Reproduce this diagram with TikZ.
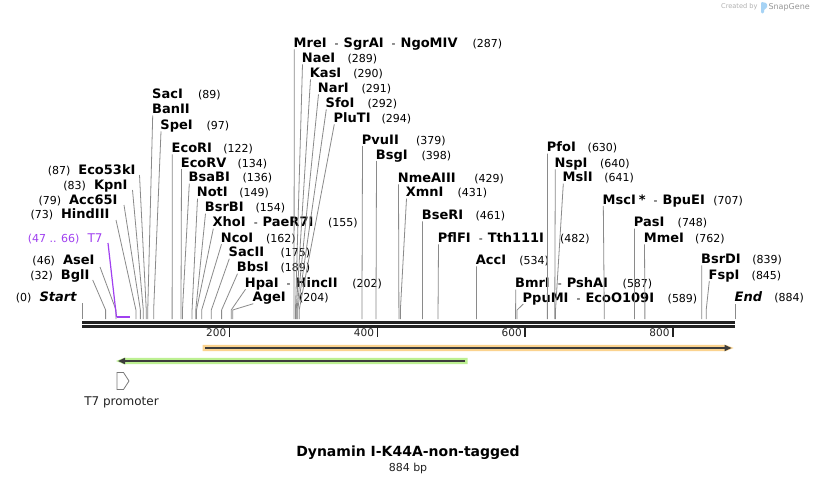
\documentclass[tikz,border=0pt]{standalone}
\usepackage{fontspec}
\setmainfont{DejaVu Sans}
\usetikzlibrary{arrows.meta}
\definecolor{cutc}{HTML}{8A8A8A}
\definecolor{bbc}{HTML}{222222}
\definecolor{purp}{HTML}{A040F0}
\definecolor{orgband}{HTML}{FBD38F}
\definecolor{grnband}{HTML}{BDF092}
\definecolor{arrdark}{HTML}{3C3C3C}
\definecolor{promoc}{HTML}{7A7A7A}
\definecolor{wmgray}{HTML}{B0B0B0}
\definecolor{wmblue}{HTML}{A6D3F5}
\newcommand\nmf{\fontsize{13}{15}\selectfont\bfseries}
\newcommand\nuf{\fontsize{11}{13}\selectfont\mdseries}
\newcommand\sepd{{\nuf\hspace{8pt}-\hspace{5pt}}}
% right-hand label: id, bp, label left x, y centre, name, number, number x
\newcommand\rlab[7]{%
  \node[lab,anchor=base west] (#1) at (#3-0.6,#4+5) {\nmf #5};
  \node[lab,anchor=base west] (#1n) at (#7,#4+5) {\nuf (#6)};
  \coordinate (#1s) at ({82+#2*0.73869},310);
  \draw[cut] (#3,#4+7) -- (#1s) -- ++(0,9);
}
% left-hand label: id, bp, name right x, y centre, name, number, line start x, y
\newcommand\llab[8]{%
  \node[lab,anchor=base east] (#1) at (#3+0.5,#4+5) {{\nuf (#6)}\hspace{8pt}{\nmf #5}};
  \coordinate (#1s) at ({82+#2*0.73869},310);
  \draw[cut] (#7,#8) -- (#1s) -- ++(0,9);
}
\tikzset{
  lab/.style={inner sep=0pt, outer sep=0pt, text=black},
  cut/.style={draw=cutc, line width=0.8pt},
  bbline/.style={draw=bbc, line width=3pt},
  tickm/.style={draw=bbc, line width=1.5pt},
  promo/.style={draw=promoc, line width=0.8pt, fill=white},
}
\begin{document}
\begin{tikzpicture}[x=1pt,y=-1pt]
\useasboundingbox (0,0) rectangle (818,484);
\fill[white] (0,0) rectangle (818,484);

% watermark
\node[lab,anchor=east,text=wmgray] (wm1) at (757.5,7) {\fontsize{6.6}{8}\selectfont Created by};
\fill[wmblue, rounded corners=1.2pt] (761,1.8) -- (767,3.2) -- (767,8.2) -- (764,9.2) -- (764,13.3) -- (761,13.3) -- cycle;
\node[lab,anchor=west,text=wmgray!85!black] (wm2) at (768.5,7.3) {\fontsize{8}{10}\selectfont SnapGene};

% backbone
\coordinate (bbA) at (82,322.2); \coordinate (bbB) at (735,322.2);
\coordinate (bbC) at (82,326.4); \coordinate (bbD) at (735,326.4);
\draw[bbline] (bbA) -- (bbB);
\draw[bbline] (bbC) -- (bbD);

% ticks
\foreach \v/\nm in {200/tk2,400/tk4,600/tk6,800/tk8}{
  \coordinate (\nm a) at ({82+\v*0.73869},327.5);
  \coordinate (\nm b) at ({82+\v*0.73869},336.5);
  \draw[tickm] (\nm a) -- (\nm b);
  \node[lab,anchor=east,text=bbc] (\nm) at ({82+\v*0.73869-3.5},333) {\fontsize{10.5}{12}\selectfont\v};
}

% Start / End
\node[lab,anchor=base east] (start) at (76.5,301.7) {{\nuf (0)}\hspace{8pt}{\nmf\itshape Start}};
\coordinate (starta) at (82,303); \coordinate (startb) at (82,319);
\draw[cut] (starta) -- (startb);
\node[lab,anchor=base west] (endl) at (734.7,301.7) {\nmf\itshape End};
\node[lab,anchor=base west] (endn) at (774.3,301.7) {\nuf (884)};
\coordinate (enda) at (735,304); \coordinate (endb) at (735,319);
\draw[cut] (enda) -- (endb);

% left labels
\llab{bglI}{32}{89}{274}{BglI}{32}{92.7}{280}
\llab{aseI}{46}{94}{259}{AseI}{46}{100}{267}
\llab{hindIII}{73}{109}{213.3}{HindIII}{73}{116}{220}
\llab{accI65}{79}{117}{199}{Acc65I}{79}{124}{205}
\llab{kpnI}{83}{127}{184}{KpnI}{83}{132.5}{190}
\llab{ecokI}{87}{135}{169}{Eco53kI}{87}{139.5}{175}

% T7 feature label
\node[lab,anchor=base east,text=purp] (t7lab) at (102.5,242.3) {{\nuf (47 .. 66)}\hspace{8pt}{\fontsize{12}{14}\selectfont T7}};
\coordinate (t7a) at (108,243); \coordinate (t7b) at (116.5,317.3); \coordinate (t7c) at (130.3,317.3);
\draw[draw=purp, line width=1.2pt] (t7a) -- (t7b);
\draw[draw=purp, line width=2pt] (t7b) -- (t7c);

% SacI / BanII
\node[lab,anchor=base west] (sacI) at (152.2,98.3) {\nmf SacI};
\node[lab,anchor=base west] (sacIn) at (198,98.3) {\nuf (89)};
\node[lab,anchor=base west] (banII) at (152.2,113.3) {\nmf BanII};
\coordinate (sacIs) at ({82+89*0.73869},310);
\draw[cut] (152.7,115.5) -- (sacIs) -- ++(0,9);

% right labels
\rlab{speI}{97}{161}{124.3}{SpeI}{97}{206.7}
\rlab{ecoRI}{122}{172.3}{147.3}{EcoRI}{122}{223.3}
\rlab{ecoRV}{134}{181.5}{162}{EcoRV}{134}{237.7}
\rlab{bsaBI}{136}{189.3}{176.7}{BsaBI}{136}{242.7}
\rlab{notI}{149}{197.5}{191.7}{NotI}{149}{239.3}
\rlab{bsrBI}{154}{205.5}{206.7}{BsrBI}{154}{255.7}
\rlab{xhoI}{155}{213.3}{221.7}{XhoI\sepd PaeR7I}{155}{328}
\rlab{ncoI}{162}{221.5}{237.3}{NcoI}{162}{266}
\rlab{sacII}{175}{229.3}{251.7}{SacII}{175}{280.7}
\rlab{bbsI}{189}{237.5}{266.7}{BbsI}{189}{280.7}
\rlab{hpaI}{202}{245.5}{282.3}{HpaI\sepd HincII}{202}{352.3}
\rlab{ageI}{204}{253.3}{296.7}{AgeI}{204}{299}
\rlab{mreI}{287}{294.3}{42.3}{MreI\sepd SgrAI\sepd NgoMIV}{287}{472.7}
\rlab{naeI}{289}{302.5}{57.3}{NaeI}{289}{347.7}
\rlab{kasI}{290}{310.5}{72.3}{KasI}{290}{353.3}
\rlab{narI}{291}{318.5}{87.3}{NarI}{291}{361.7}
\rlab{sfoI}{292}{326.3}{102.3}{SfoI}{292}{367.7}
\rlab{pluTI}{294}{334.3}{117.3}{PluTI}{294}{381.7}
\rlab{pvuII}{379}{362.5}{139}{PvuII}{379}{416}
\rlab{bsgI}{398}{376.5}{154}{BsgI}{398}{421.7}
\rlab{nmeAIII}{429}{398.5}{177.3}{NmeAIII}{429}{474.3}
\rlab{xmnI}{431}{406.5}{191.7}{XmnI}{431}{457.7}
\rlab{bseRI}{461}{422.5}{214.3}{BseRI}{461}{475.7}
\rlab{pflFI}{482}{438.5}{237.3}{PflFI\sepd Tth111I}{482}{560}
\rlab{accI}{534}{476.5}{259.3}{AccI}{534}{519.3}
\rlab{bmrI}{587}{515.7}{282.5}{BmrI\sepd PshAI}{587}{622.7}
\rlab{ppuMI}{589}{523.3}{297}{PpuMI\sepd EcoO109I}{589}{667.7}
\rlab{pfoI}{630}{547.5}{146.7}{PfoI}{630}{587.7}
\rlab{nspI}{640}{555.3}{162.3}{NspI}{640}{600}
\rlab{mslI}{641}{563.3}{176.7}{MslI}{641}{604.3}
\rlab{mscI}{707}{603.3}{199}{MscI\hspace{3pt}*\sepd BpuEI}{707}{713.3}
\rlab{pasI}{748}{634.5}{221.7}{PasI}{748}{677.7}
\rlab{mmeI}{762}{644.5}{237.3}{MmeI}{762}{695}
\rlab{bsrDI}{839}{701.7}{258.3}{BsrDI}{839}{752.3}
\rlab{fspI}{845}{709.3}{274}{FspI}{845}{751.7}

% features
\fill[orgband] (202.5,344.8) -- (725.5,344.8) -- (733.5,348) -- (725.5,351.2) -- (202.5,351.2) -- cycle;
\coordinate (oa) at (205,348); \coordinate (ob) at (731.5,348);
\draw[arrdark, line width=1.7pt, -{Triangle[length=7pt,width=6pt]}] (oa) -- (ob);
\fill[grnband] (467.5,357.8) -- (124,357.8) -- (116,361) -- (124,364.2) -- (467.5,364.2) -- cycle;
\coordinate (ga) at (465,361); \coordinate (gb) at (118,361);
\draw[arrdark, line width=1.7pt, -{Triangle[length=7pt,width=6pt]}] (ga) -- (gb);

% T7 promoter
\draw[promo] (117,372.5) -- (123.5,372.5) -- (129,381) -- (123.5,389.5) -- (117,389.5) -- cycle;
\node[lab,text=bbc] (t7p) at (121.5,402.5) {\fontsize{12}{14}\selectfont T7 promoter};

% title
\node[lab] (title) at (408,453) {\fontsize{14}{16}\selectfont\bfseries Dynamin I-K44A-non-tagged};
\node[lab,text=bbc] (size) at (408,468) {\fontsize{11}{13}\selectfont 884 bp};
\end{tikzpicture}
\end{document}
